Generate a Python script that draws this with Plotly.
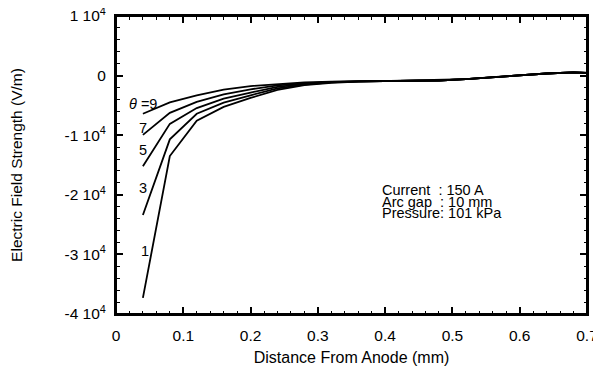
import plotly.graph_objects as go

distance_mm = [0.04, 0.08, 0.12, 0.16, 0.20, 0.24, 0.28, 0.32, 0.36, 0.40,
               0.44, 0.48, 0.52, 0.56, 0.60, 0.64, 0.68, 0.70]
tail = [-900, -880, -820, -600, -250, 80, 350, 550, 450]

field_theta9 = [-6400, -4500, -3300, -2350, -1750, -1400, -1150, -1000, -950] + tail
field_theta7 = [-9950, -6250, -4400, -3150, -2300, -1650, -1300, -1050, -960] + tail
field_theta5 = [-15200, -8100, -5450, -3850, -2850, -1900, -1400, -1100, -970] + tail
field_theta3 = [-23400, -10700, -6400, -4550, -3300, -2150, -1500, -1150, -980] + tail
field_theta1 = [-37300, -13500, -7550, -5250, -3750, -2400, -1600, -1200, -1000] + tail

series = [("θ=9", field_theta9), ("7", field_theta7), ("5", field_theta5),
          ("3", field_theta3), ("1", field_theta1)]

label_text = ["<i>θ</i> =9", "7", "5", "3", "1"]
label_x = [0.040, 0.040, 0.040, 0.040, 0.043]
label_y = [-4700, -8800, -12500, -18900, -29500]

y_ticks = [-40000, -30000, -20000, -10000, 0, 10000]
y_tick_text = ["-4 10<sup>4</sup>", "-3 10<sup>4</sup>", "-2 10<sup>4</sup>",
               "-1 10<sup>4</sup>", "0", "1 10<sup>4</sup>"]
x_ticks = [0, 0.1, 0.2, 0.3, 0.4, 0.5, 0.6, 0.7]
x_tick_text = ["0", "0.1", "0.2", "0.3", "0.4", "0.5", "0.6", "0.7"]

info_lines = ["Current  : 150 A", "Arc gap  : 10 mm", "Pressure: 101 kPa"]
info_y = [-19200, -21200, -23050]

fig = go.Figure()
for name, vals in series:
    fig.add_trace(go.Scatter(x=distance_mm, y=vals, mode="lines", name=name,
                             line=dict(color="black", width=1.8), showlegend=False))
# invisible trace to activate mirrored axes (top/right)
fig.add_trace(go.Scatter(x=[distance_mm[0]], y=[field_theta9[0]], xaxis="x2", yaxis="y2",
                         mode="markers", marker=dict(opacity=0), showlegend=False,
                         hoverinfo="skip"))

font = dict(family="Liberation Sans, Arial, sans-serif", size=15, color="black")
for t, x, y in zip(label_text, label_x, label_y):
    fig.add_annotation(x=x, y=y, text=t, showarrow=False, font=dict(font, size=14.5),
                       xanchor="center", yanchor="middle")
for t, y in zip(info_lines, info_y):
    fig.add_annotation(x=0.392, y=y, text=t, showarrow=False, font=dict(font, size=14.5),
                       xanchor="left", yanchor="middle")

# plot frame
fig.add_shape(type="rect", xref="paper", yref="paper", x0=0, x1=1, y0=0, y1=1,
              line=dict(color="black", width=2), fillcolor="rgba(0,0,0,0)", layer="above")

tick_common = dict(ticks="inside", ticklen=7, tickwidth=1.5, tickcolor="black",
                   showline=True, linecolor="black", linewidth=2,
                   showgrid=False, zeroline=False, automargin=False,
                   ticklabeloverflow="allow")
xminor = dict(ticks="inside", dtick=0.02, tick0=0, ticklen=3.5,
              tickcolor="black", tickwidth=1.2, showgrid=False)
yminor = dict(ticks="inside", dtick=2000, tick0=0, ticklen=3.5,
              tickcolor="black", tickwidth=1.2, showgrid=False)

# page body has an 8px margin, so the figure is shrunk/offset accordingly
fig.update_layout(
    width=593, height=361,
    margin=dict(l=108, r=14, t=8, b=55),
    paper_bgcolor="white", plot_bgcolor="white",
    font=font,
    xaxis=dict(range=[0, 0.7], tickvals=x_ticks, ticktext=x_tick_text, minor=xminor,
               tickfont=dict(font, size=15.5), ticklabelstandoff=6, mirror="ticks",
               title=dict(text="Distance From Anode (mm)", font=dict(font, size=16), standoff=9),
               **tick_common),
    yaxis=dict(range=[-40000, 10000], tickvals=y_ticks, ticktext=y_tick_text, minor=yminor,
               tickfont=dict(font, size=15.5), ticklabelstandoff=5, mirror="ticks",
               title=dict(text="Electric Field Strength (V/m)", font=dict(font, size=15.5), standoff=38),
               **tick_common),
    xaxis2=dict(range=[0, 0.7], tickvals=x_ticks, showticklabels=False, minor=xminor,
                overlaying="x", side="top", anchor="y", **tick_common),
    yaxis2=dict(range=[-40000, 10000], tickvals=y_ticks, showticklabels=False, minor=yminor,
                overlaying="y", side="right", anchor="x", **tick_common),
)

fig.write_html("out.html", config={"displayModeBar": False})
